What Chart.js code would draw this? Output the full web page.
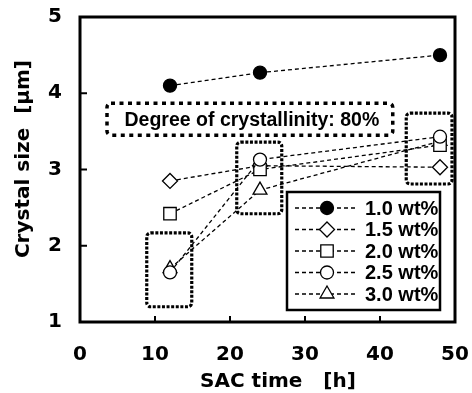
<!DOCTYPE html>
<html>
<head>
<meta charset="utf-8">
<script src="https://cdn.jsdelivr.net/npm/chart.js@4/dist/chart.umd.min.js"></script>
<style>
  html, body { margin: 0; padding: 0; background: #fff; }
  #wrap { width: 472px; height: 393px; }
</style>
</head>
<body>
<div id="wrap"><canvas id="crystal-chart" width="472" height="393"></canvas></div>
<script>
// SAC time [h] and crystal size [um] for each SiO2 loading
const sacTime = [12, 24, 48];
const seriesLabels = ['1.0 wt%', '1.5 wt%', '2.0 wt%', '2.5 wt%', '3.0 wt%'];
const size10 = [4.10, 4.27, 4.50];
const size15 = [2.85, 3.05, 3.03];
const size20 = [2.42, 3.00, 3.32];
const size25 = [1.65, 3.13, 3.43];
const size30 = [1.70, 2.73, 3.37];
const seriesValues = [size10, size15, size20, size25, size30];

const xTicks = [0, 10, 20, 30, 40, 50];
const yTicks = [1, 2, 3, 4, 5];

// dotted frames, in data units
const noteText = 'Degree of crystallinity: 80%';
const boxXRanges = [[3.6, 41.7], [8.9, 14.9], [20.9, 26.9], [43.5, 49.6]];
const boxYRanges = [[3.45, 3.87], [1.20, 2.17], [2.42, 3.36], [2.81, 3.74]];

const axisFont = "'DejaVu Sans', sans-serif";
const textFont = "'Liberation Sans', Arial, sans-serif";

const markerStyles = [
    {shape: 'circle', r: 6.5, fill: '#000'},
    {shape: 'rectRot', r: 7.5, fill: '#fff'},
    {shape: 'rect', r: 8.8, fill: '#fff'},
    {shape: 'circle', r: 6.5, fill: '#fff'},
    {shape: 'triangle', r: 8, fill: '#fff'}
];
// bottom -> top: 3.0, 1.5, 2.0, 2.5, 1.0 (higher order is drawn first)
const drawOrder = [1, 4, 3, 2, 5];

Chart.defaults.color = '#000';

const drawMarker = (ctx, m, x, y) => {
    ctx.save();
    ctx.fillStyle = m.fill;
    ctx.strokeStyle = '#000';
    ctx.lineWidth = 1.3;
    ctx.setLineDash([]);
    ctx.beginPath();
    if (m.shape === 'circle') {
        ctx.arc(x, y, m.r, 0, Math.PI * 2);
    } else if (m.shape === 'rect') {
        const s = m.r * Math.SQRT1_2;
        ctx.rect(x - s, y - s, 2 * s, 2 * s);
    } else if (m.shape === 'rectRot') {
        ctx.moveTo(x, y - m.r);
        ctx.lineTo(x + m.r, y);
        ctx.lineTo(x, y + m.r);
        ctx.lineTo(x - m.r, y);
    } else {
        const a = -Math.PI / 2;
        for (let k = 0; k < 3; k++) {
            const t = a + k * 2 * Math.PI / 3;
            const px = x + Math.cos(t) * m.r, py = y + Math.sin(t) * m.r;
            if (k === 0) ctx.moveTo(px, py); else ctx.lineTo(px, py);
        }
    }
    ctx.closePath();
    ctx.fill();
    ctx.stroke();
    ctx.restore();
};

const framePlugin = {
    id: 'frameAndBoxes',
    beforeDatasetsDraw(chart) {
        const {ctx, chartArea: a, scales: {x, y}} = chart;
        ctx.save();
        ctx.strokeStyle = '#000';
        // plot frame
        ctx.lineWidth = 3;
        ctx.strokeRect(a.left, a.top, a.right - a.left, a.bottom - a.top);
        // inward tick marks
        ctx.lineWidth = 2;
        xTicks.forEach(v => {
            const px = x.getPixelForValue(v);
            ctx.beginPath();
            ctx.moveTo(px, a.bottom);
            ctx.lineTo(px, a.bottom - 6);
            ctx.stroke();
        });
        yTicks.forEach(v => {
            const py = y.getPixelForValue(v);
            ctx.beginPath();
            ctx.moveTo(a.left, py);
            ctx.lineTo(a.left + 7, py);
            ctx.stroke();
        });
        // dotted frames
        boxXRanges.forEach((xr, i) => {
            const yr = boxYRanges[i];
            const l = x.getPixelForValue(xr[0]), r = x.getPixelForValue(xr[1]);
            const t = y.getPixelForValue(yr[1]), b = y.getPixelForValue(yr[0]);
            ctx.lineWidth = i === 0 ? 3.5 : 3.2;
            ctx.setLineDash(i === 0 ? [4, 4.5] : [3, 1.6]);
            ctx.beginPath();
            ctx.roundRect(l, t, r - l, b - t, 4);
            ctx.stroke();
            if (i === 0) {
                ctx.setLineDash([]);
                ctx.fillStyle = '#000';
                ctx.font = 'bold 19.5px ' + textFont;
                ctx.textAlign = 'center';
                ctx.textBaseline = 'middle';
                ctx.fillText(noteText, (l + r) / 2 + 2, (t + b) / 2 + 1);
            }
        });
        ctx.restore();
    },
    afterDatasetsDraw(chart) {
        const {ctx, chartArea: a} = chart;
        const w = 153, h = 118;
        const left = a.right - 15 - w, top = a.bottom - 12 - h;
        ctx.save();
        ctx.fillStyle = '#fff';
        ctx.fillRect(left, top, w, h);
        seriesLabels.forEach((label, i) => {
            const cy = top + 16 + i * 21.5;
            ctx.strokeStyle = '#000';
            ctx.lineWidth = 1.3;
            ctx.setLineDash([4, 3]);
            ctx.beginPath();
            ctx.moveTo(left + 8, cy);
            ctx.lineTo(left + 71, cy);
            ctx.stroke();
            drawMarker(ctx, markerStyles[i], left + 40, cy);
            ctx.fillStyle = '#000';
            ctx.font = 'bold 20px ' + textFont;
            ctx.textAlign = 'left';
            ctx.textBaseline = 'middle';
            ctx.fillText(label, left + 78, cy + 1);
        });
        ctx.setLineDash([]);
        ctx.lineWidth = 2.5;
        ctx.strokeStyle = '#000';
        ctx.strokeRect(left, top, w, h);
        ctx.restore();
    }
};

const datasets = seriesLabels.map((label, i) => ({
    label: label,
    data: sacTime.map((t, j) => ({x: t, y: seriesValues[i][j]})),
    borderColor: '#000',
    borderWidth: 1.3,
    borderDash: [4, 3],
    pointStyle: markerStyles[i].shape,
    pointRadius: markerStyles[i].r,
    pointBackgroundColor: markerStyles[i].fill,
    pointBorderColor: '#000',
    pointBorderWidth: 1.3,
    fill: false,
    order: drawOrder[i]
}));

new Chart(document.getElementById('crystal-chart'), {
    type: 'line',
    data: {datasets: datasets},
    options: {
        responsive: false,
        animation: false,
        clip: false,
        layout: {padding: {top: 17, right: 17, left: 0, bottom: 0}},
        plugins: {legend: {display: false}, tooltip: {enabled: false}},
        scales: {
            x: {
                type: 'linear',
                min: 0, max: 50,
                afterFit: s => { s.height = 71; s.paddingLeft = 0; s.paddingRight = 0; },
                afterBuildTicks: s => { s.ticks = xTicks.map(v => ({value: v})); },
                ticks: {font: {family: axisFont, size: 20, weight: 'bold'}, padding: 21, color: '#000'},
                grid: {display: false, drawTicks: false},
                border: {display: false},
                title: {display: true, text: '   SAC time   [h]', color: '#000',
                    font: {family: axisFont, size: 20, weight: 'bold', lineHeight: 1.1}, padding: 0}
            },
            y: {
                type: 'linear',
                min: 1, max: 5,
                afterFit: s => { s.width = 80; s.paddingTop = 0; s.paddingBottom = 0; },
                afterBuildTicks: s => { s.ticks = yTicks.map(v => ({value: v})); },
                ticks: {font: {family: axisFont, size: 20, weight: 'bold'}, padding: 18, color: '#000'},
                grid: {display: false, drawTicks: false},
                border: {display: false},
                title: {display: true, text: '   Crystal size  [\u03bcm]', color: '#000',
                    font: {family: axisFont, size: 20, weight: 'bold'}, padding: {top: 12}}
            }
        }
    },
    plugins: [framePlugin]
});
</script>
</body>
</html>
